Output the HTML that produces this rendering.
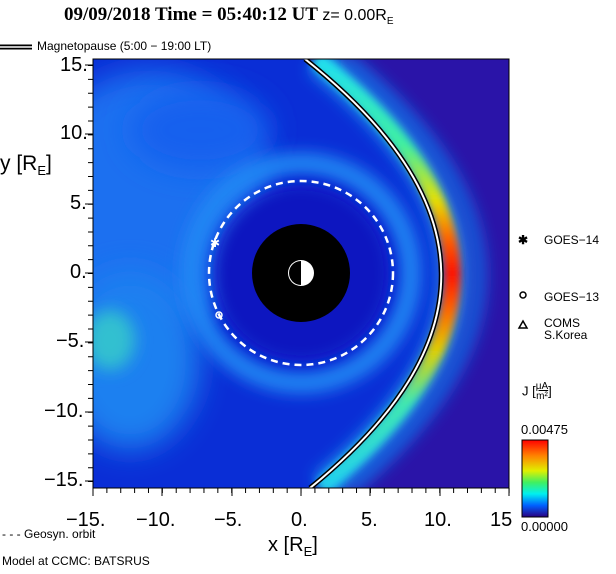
<!DOCTYPE html>
<html><head><meta charset="utf-8"><style>
body{margin:0;background:#fff;width:616px;height:574px;overflow:hidden;position:relative;font-family:"Liberation Sans",sans-serif}
.t{position:absolute;white-space:nowrap;color:#000}
</style></head><body>
<svg width="616" height="574" style="position:absolute;left:0;top:0" xmlns="http://www.w3.org/2000/svg">
<defs>
<clipPath id="pc"><rect x="93" y="59" width="416" height="429"/></clipPath>
<filter id="b8" x="-50%" y="-50%" width="200%" height="200%"><feGaussianBlur stdDeviation="8"/></filter>
<filter id="b4" x="-50%" y="-50%" width="200%" height="200%"><feGaussianBlur stdDeviation="4"/></filter>
<filter id="b15" x="-50%" y="-50%" width="200%" height="200%"><feGaussianBlur stdDeviation="15"/></filter>
<linearGradient id="band" x1="0" y1="59" x2="0" y2="488" gradientUnits="userSpaceOnUse">
<stop offset="0" stop-color="#20e0f0"/><stop offset="0.2" stop-color="#40f0a0"/>
<stop offset="0.33" stop-color="#e8e000"/><stop offset="0.42" stop-color="#ff6000"/><stop offset="0.5" stop-color="#ff1000"/><stop offset="0.58" stop-color="#ff6000"/>
<stop offset="0.68" stop-color="#e0d000"/><stop offset="0.8" stop-color="#40e8b0"/><stop offset="1" stop-color="#20d0f0"/>
</linearGradient>
<linearGradient id="cb" x1="0" y1="0" x2="0" y2="1">
<stop offset="0" stop-color="#ff0000"/><stop offset="0.2" stop-color="#ff8000"/><stop offset="0.4" stop-color="#e0f000"/>
<stop offset="0.55" stop-color="#40f060"/><stop offset="0.7" stop-color="#00f0f0"/><stop offset="0.85" stop-color="#0060ff"/><stop offset="1" stop-color="#2a0080"/>
</linearGradient>
</defs>
<g clip-path="url(#pc)">
<rect x="93" y="59" width="416" height="429" fill="#0a2ed6"/>
<ellipse cx="150" cy="200" rx="120" ry="130" fill="#1a70f0" filter="url(#b15)"/>
<ellipse cx="130" cy="360" rx="70" ry="90" fill="#1a80f0" filter="url(#b15)"/>
<ellipse cx="110" cy="340" rx="25" ry="30" fill="#30c0d0" filter="url(#b8)"/>
<ellipse cx="200" cy="130" rx="70" ry="40" fill="#1660ee" filter="url(#b15)"/>
<circle cx="301" cy="273" r="110" fill="none" stroke="#2088f4" stroke-width="20" filter="url(#b8)"/>
<circle cx="301" cy="273" r="88" fill="#0818c0" filter="url(#b8)"/>
<path d="M 305 59 Q 575 273 310 488 L 520 488 L 520 59 Z" fill="#2a14a8"/>
<path d="M 318 59 Q 588 273 323 488" fill="none" stroke="#1a90f0" stroke-width="30" filter="url(#b8)"/>
<path d="M 345 59 Q 610 273 350 488" fill="none" stroke="#1860e0" stroke-width="14" filter="url(#b8)"/>
<path d="M 316 59 Q 586 273 321 488" fill="none" stroke="url(#band)" stroke-width="17" filter="url(#b4)"/>
<path d="M 305 59 Q 575 273 310 488" fill="none" stroke="#000" stroke-width="5"/>
<path d="M 305 59 Q 575 273 310 488" fill="none" stroke="#fff" stroke-width="2"/>
</g>
<circle cx="301" cy="273" r="92" fill="none" stroke="#fff" stroke-width="2.5" stroke-dasharray="7,5"/>
<circle cx="301" cy="273" r="49" fill="#000"/>
<circle cx="301" cy="273" r="13" fill="#fff"/>
<path d="M301 261 A12 12 0 0 0 301 285 Z" fill="#000"/>
<text x="210" y="247" fill="#fff" font-size="12">✱</text>
<circle cx="219" cy="315" r="3" fill="none" stroke="#fff" stroke-width="1.5"/>
<rect x="93" y="59" width="416" height="429" fill="none" stroke="#000" stroke-width="1"/>
<line x1="92.5" y1="490.5" x2="510" y2="490.5" stroke="#000" stroke-width="5" stroke-dasharray="1 12.87"/>
<line x1="90.5" y1="65" x2="90.5" y2="482" stroke="#000" stroke-width="5" stroke-dasharray="1 12.87"/>
<g stroke="#000" stroke-width="1">
<line x1="93" y1="488" x2="93" y2="496"/><line x1="162" y1="488" x2="162" y2="496"/><line x1="232" y1="488" x2="232" y2="496"/><line x1="301" y1="488" x2="301" y2="496"/><line x1="370" y1="488" x2="370" y2="496"/><line x1="440" y1="488" x2="440" y2="496"/><line x1="509" y1="488" x2="509" y2="496"/>
<line x1="85" y1="65" x2="93" y2="65"/><line x1="85" y1="134" x2="93" y2="134"/><line x1="85" y1="204" x2="93" y2="204"/><line x1="85" y1="273" x2="93" y2="273"/><line x1="85" y1="342" x2="93" y2="342"/><line x1="85" y1="412" x2="93" y2="412"/><line x1="85" y1="481" x2="93" y2="481"/>
</g>
<line x1="0" y1="47" x2="32" y2="47" stroke="#000" stroke-width="5"/>
<line x1="0" y1="47" x2="32" y2="47" stroke="#fff" stroke-width="1.5"/>
<rect x="522" y="440" width="26" height="77" fill="url(#cb)" stroke="#000"/>
<text x="518" y="244" font-size="12" font-weight="bold">✱</text>
<circle cx="523" cy="295" r="3" fill="none" stroke="#000" stroke-width="1.5"/>
<path d="M519 328 L523 321 L527 328 Z" fill="none" stroke="#000" stroke-width="1.5"/>
</svg>
<div class="t" style="left:64px;top:4px;font:bold 19px 'Liberation Serif',serif">09/09/2018 Time = 05:40:12 UT <span style="font:16px 'Liberation Sans',sans-serif">z= 0.00R<sub style="font-size:10px">E</sub></span></div>
<div class="t" style="left:37px;top:39px;font-size:12px">Magnetopause (5:00 − 19:00 LT)</div>
<div class="t" style="left:60px;top:54px;font-size:20px">15.</div>
<div class="t" style="left:60px;top:122px;font-size:20px">10.</div>
<div class="t" style="left:70px;top:192px;font-size:20px">5.</div>
<div class="t" style="left:70px;top:261px;font-size:20px">0.</div>
<div class="t" style="left:56px;top:330px;font-size:20px">−5.</div>
<div class="t" style="left:44px;top:400px;font-size:20px">−10.</div>
<div class="t" style="left:44px;top:469px;font-size:20px">−15.</div>
<div class="t" style="left:0px;top:152px;font-size:21px">y [R<sub style="font-size:13px">E</sub>]</div>
<div class="t" style="left:66px;top:509px;font-size:20px">−15.</div>
<div class="t" style="left:136px;top:509px;font-size:20px">−10.</div>
<div class="t" style="left:214px;top:509px;font-size:20px">−5.</div>
<div class="t" style="left:291px;top:509px;font-size:20px">0.</div>
<div class="t" style="left:361px;top:509px;font-size:20px">5.</div>
<div class="t" style="left:424px;top:509px;font-size:20px">10.</div>
<div class="t" style="left:490px;top:509px;font-size:20px">15</div>
<div class="t" style="left:268px;top:534px;font-size:20px">x [R<sub style="font-size:13px">E</sub>]</div>
<div class="t" style="left:2px;top:527px;font-size:12px">- - - Geosyn. orbit</div>
<div class="t" style="left:2px;top:554px;font-size:12px">Model at CCMC: BATSRUS</div>
<div class="t" style="left:544px;top:233px;font-size:12px">GOES−14</div>
<div class="t" style="left:544px;top:290px;font-size:12px">GOES−13</div>
<div class="t" style="left:544px;top:317px;font-size:12px;line-height:12px">COMS<br>S.Korea</div>
<div class="t" style="left:522px;top:382px;font-size:13px">J [<span style="display:inline-block;vertical-align:middle;font-size:10px;text-align:center;line-height:10px"><u>μA</u><br>m²</span>]</div>
<div class="t" style="left:521px;top:422px;font-size:13px">0.00475</div>
<div class="t" style="left:521px;top:519px;font-size:13px">0.00000</div>
</body></html>
